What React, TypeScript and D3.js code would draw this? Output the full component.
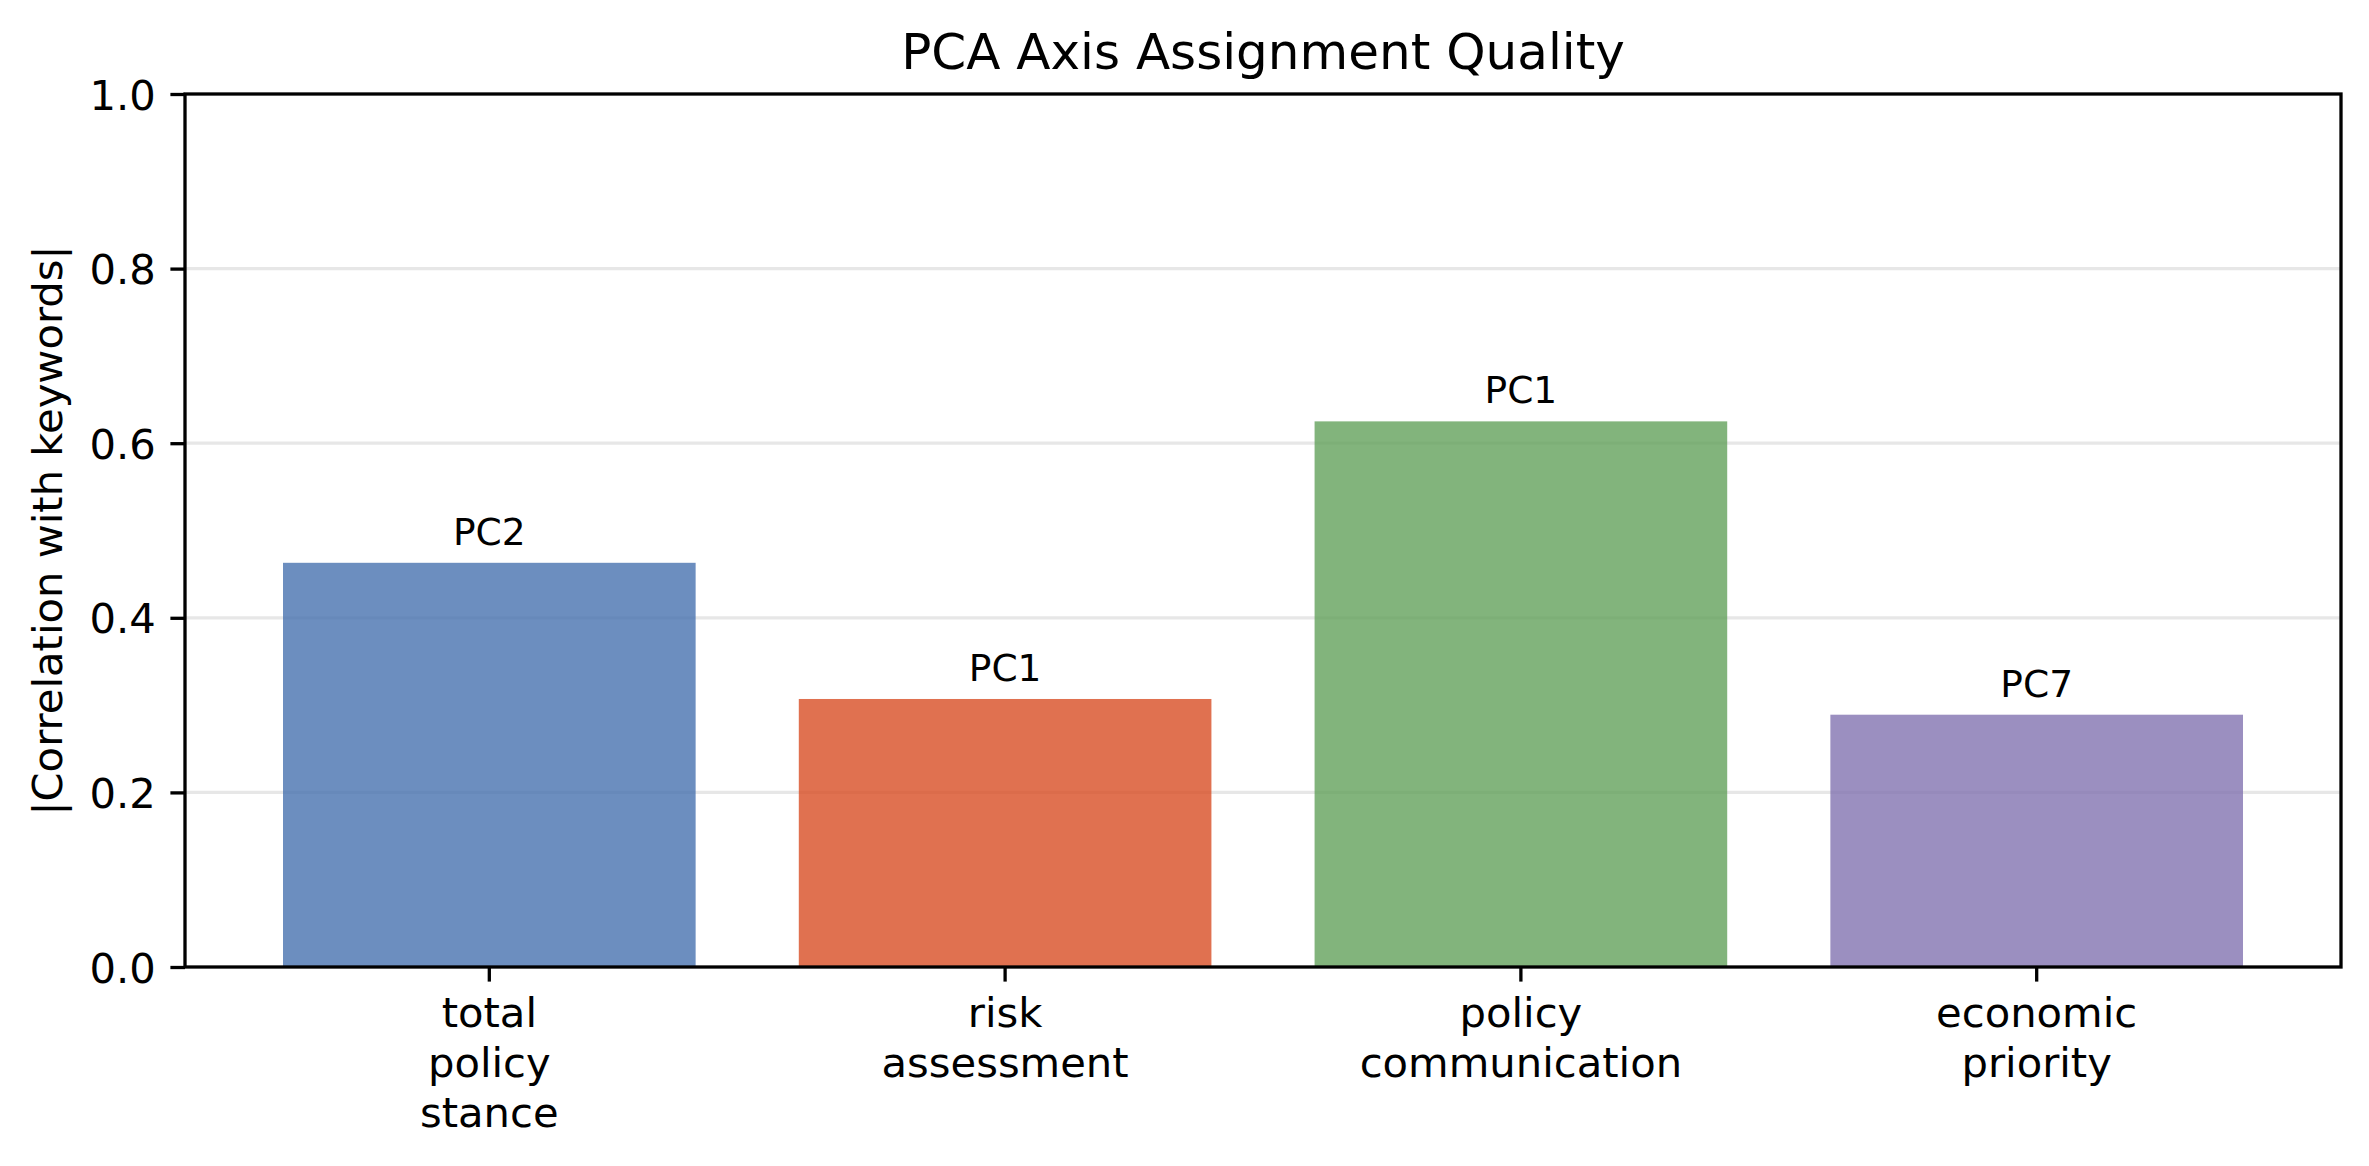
import { useEffect, useRef } from 'react';
import * as d3 from 'd3';

const categories = ['total\npolicy\nstance', 'risk\nassessment', 'policy\ncommunication', 'economic\npriority'];
const correlations = [0.463, 0.307, 0.625, 0.289];
const components = ['PC2', 'PC1', 'PC1', 'PC7'];
const barColors = ['#4772af', '#d84e24', '#63a15b', '#8273b0'];
const yTicks = [0, 0.2, 0.4, 0.6, 0.8, 1.0];

export default function App() {
  const svgRef = useRef<SVGSVGElement>(null);

  useEffect(() => {
    if (!svgRef.current) return;

    const width = 2369;
    const height = 1166;
    const margin = { top: 94, right: 28, bottom: 199, left: 185 };
    const font = 'DejaVu Sans, sans-serif';

    const svg = d3.select(svgRef.current);
    svg.selectAll('*').remove();

    const x = d3
      .scaleBand<number>()
      .domain(d3.range(categories.length))
      .range([margin.left, width - margin.right])
      .paddingInner(0.2)
      .paddingOuter(0.19);

    const y = d3
      .scaleLinear()
      .domain([0, 1])
      .range([height - margin.bottom, margin.top]);

    svg.append('rect').attr('width', width).attr('height', height).attr('fill', '#fff');

    // horizontal grid behind the bars
    svg
      .append('g')
      .selectAll('line')
      .data(yTicks.filter((t) => t > 0 && t < 1))
      .enter()
      .append('line')
      .attr('x1', margin.left)
      .attr('x2', width - margin.right)
      .attr('y1', (d) => y(d))
      .attr('y2', (d) => y(d))
      .attr('stroke', '#b0b0b0')
      .attr('stroke-opacity', 0.3)
      .attr('stroke-width', 3.3);

    // bars
    svg
      .append('g')
      .selectAll('rect')
      .data(correlations)
      .enter()
      .append('rect')
      .attr('x', (_, i) => x(i)!)
      .attr('width', x.bandwidth())
      .attr('y', (d) => y(d))
      .attr('height', (d) => y(0) - y(d))
      .attr('fill', (_, i) => barColors[i])
      .attr('fill-opacity', 0.8);

    // PC labels above bars
    svg
      .append('g')
      .selectAll('text')
      .data(correlations)
      .enter()
      .append('text')
      .attr('x', (_, i) => x(i)! + x.bandwidth() / 2)
      .attr('y', (d) => y(d) - 18)
      .attr('text-anchor', 'middle')
      .attr('font-family', font)
      .attr('font-size', 37.5)
      .attr('fill', '#000')
      .text((_, i) => components[i]);

    // axes frame
    const frame = svg.append('g').attr('fill', 'none').attr('stroke', '#000').attr('stroke-width', 3.3);
    frame
      .append('rect')
      .attr('x', margin.left)
      .attr('y', margin.top)
      .attr('width', width - margin.right - margin.left)
      .attr('height', height - margin.bottom - margin.top)
      .attr('stroke-linecap', 'square');

    // y axis
    const yAxis = svg
      .append('g')
      .attr('transform', `translate(${margin.left},0)`)
      .call(
        d3
          .axisLeft(y)
          .tickValues(yTicks)
          .tickSize(14.6)
          .tickPadding(14.6)
          .tickFormat(d3.format('.1f'))
      );
    yAxis.select('.domain').remove();
    yAxis.selectAll('line').attr('stroke', '#000').attr('stroke-width', 3.3);
    yAxis
      .selectAll('text')
      .attr('font-family', font)
      .attr('font-size', 41.7)
      .attr('fill', '#000')
      .attr('dy', '0.36em');

    // x axis
    const xAxis = svg
      .append('g')
      .attr('transform', `translate(0,${height - margin.bottom})`)
      .call(d3.axisBottom(x).tickSize(14.6).tickFormat(() => ''));
    xAxis.select('.domain').remove();
    xAxis.selectAll('line').attr('stroke', '#000').attr('stroke-width', 3.3);

    const xLabels = svg
      .append('g')
      .selectAll('text')
      .data(categories)
      .enter()
      .append('text')
      .attr('text-anchor', 'middle')
      .attr('font-family', font)
      .attr('font-size', 41.7)
      .attr('fill', '#000');
    xLabels
      .selectAll('tspan')
      .data((d, i) => d.split('\n').map((line) => ({ line, i })))
      .enter()
      .append('tspan')
      .attr('x', (d) => x(d.i)! + x.bandwidth() / 2)
      .attr('y', (_, j) => height - margin.bottom + 60 + j * 50)
      .text((d) => d.line);

    // y label
    svg
      .append('text')
      .attr('transform', `translate(62,${(margin.top + height - margin.bottom) / 2}) rotate(-90)`)
      .attr('text-anchor', 'middle')
      .attr('font-family', font)
      .attr('font-size', 41.7)
      .attr('fill', '#000')
      .text('|Correlation with keywords|');

    // title
    svg
      .append('text')
      .attr('x', (margin.left + width - margin.right) / 2)
      .attr('y', 69)
      .attr('text-anchor', 'middle')
      .attr('font-family', font)
      .attr('font-size', 50)
      .attr('fill', '#000')
      .text('PCA Axis Assignment Quality');
  }, []);

  return (
    <div style={{ position: 'absolute', left: 0, top: 0 }}>
      <svg ref={svgRef} width={2369} height={1166} style={{ display: 'block' }} />
    </div>
  );
}
